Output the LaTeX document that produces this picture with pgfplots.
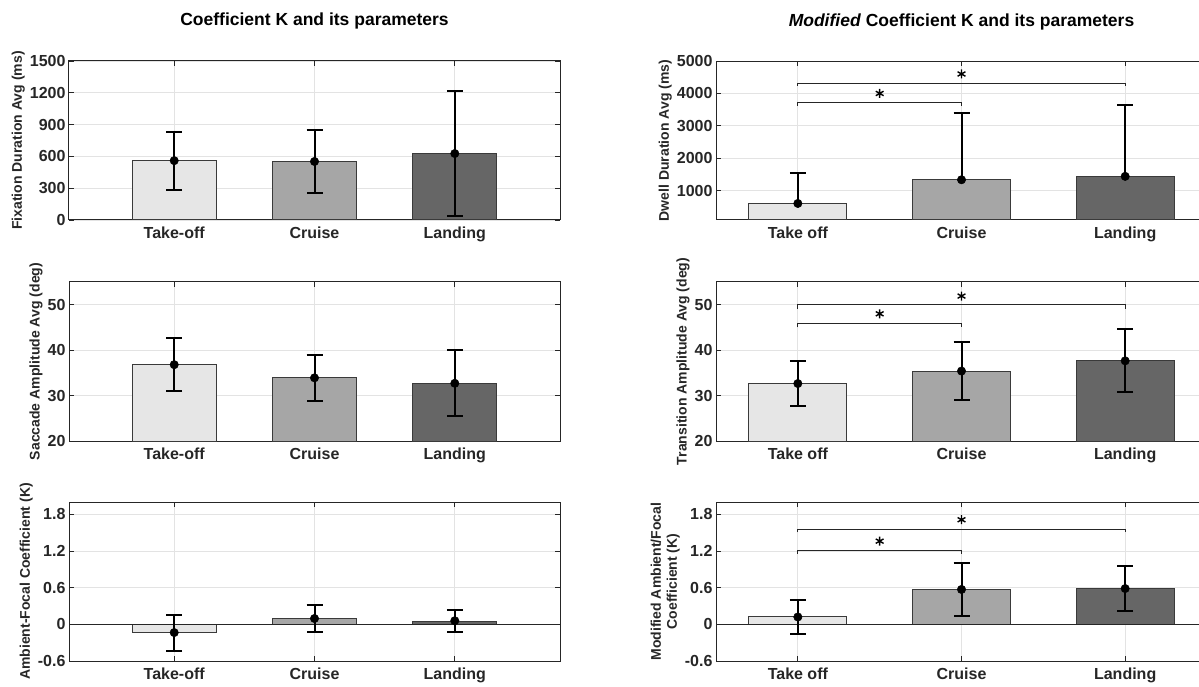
\documentclass[border=0pt]{standalone}
\usepackage{fontspec}
\setmainfont{Liberation Sans}
\usepackage{pgfplots}
\pgfplotsset{compat=1.18}

\definecolor{axgray}{HTML}{262626}
\definecolor{gridc}{HTML}{E3E3E3}
\definecolor{barA}{HTML}{E6E6E6}
\definecolor{barB}{HTML}{A6A6A6}
\definecolor{barC}{HTML}{666666}
\definecolor{edgec}{HTML}{3A3A3A}

\pgfplotsset{
  panel/.style={
    scale only axis, width=491pt, height=159pt,
    anchor=south west,
    xtick={1,2,3},
    tick align=inside, major tick length=5pt,
    grid=major, grid style={gridc, line width=0.8pt},
    axis line style={axgray, line width=1pt},
    every tick/.style={axgray, line width=0.8pt},
    tick label style={font=\fontsize{16}{16}\selectfont\bfseries, text=axgray},
    xticklabel style={yshift=-3pt},
    ylabel style={font=\fontsize{14}{16}\selectfont\bfseries, text=axgray, align=center, inner sep=1.5pt},
    title style={font=\fontsize{17.5}{18}\selectfont\bfseries, text=black,
      at={(axis description cs:0.5,1)}, anchor=base, yshift=29pt},
  },
  leftp/.style={panel, xmin=0.25, xmax=3.75, xticklabels={Take-off,Cruise,Landing}},
  rightp/.style={panel, xmin=0.5, xmax=3.5, xticklabels={Take off,Cruise,Landing}},
  barp/.style={ybar, bar width=0.6, bar shift=0pt, draw=edgec, line width=1pt, fill=#1},
  errp/.style={only marks, mark=*, mark size=4.2pt, black, mark options={fill=black, line width=0.5pt},
    error bars/.cd, y dir=#1, y explicit,
    error bar style={line width=2pt, black},
    error mark options={rotate=90, mark size=8pt, line width=2pt, black}},
  brk/.style={black!85, line width=1pt},
  star/.style={only marks, mark=asterisk, mark size=4.5pt, black, mark options={line width=1.4pt}},
}

\begin{document}
\begin{tikzpicture}
\useasboundingbox (0,0) rectangle (1199pt,686pt);

% ---------------- Left column ----------------
\begin{axis}[leftp, at={(69pt,466pt)},
  ymin=0, ymax=1500, ytick={0,300,600,900,1200,1500},
  yticklabels={0,300,600,900,1200,1500},
  ylabel={Fixation Duration Avg (ms)},
  title={Coefficient K and its parameters}]
  \addplot[barp=barA] coordinates {(1,560)};
  \addplot[barp=barB] coordinates {(2,552)};
  \addplot[barp=barC] coordinates {(3,627)};
  \addplot[errp=both] coordinates {(1,560) +- (0,273) (2,552) +- (0,300) (3,627) +- (0,590)};
\end{axis}

\begin{axis}[leftp, at={(69pt,245pt)},
  ymin=20, ymax=55, ytick={20,30,40,50},
  yticklabels={20,30,40,50},
  ylabel={Saccade Amplitude Avg (deg)}]
  \addplot[barp=barA] coordinates {(1,36.8)};
  \addplot[barp=barB] coordinates {(2,33.9)};
  \addplot[barp=barC] coordinates {(3,32.7)};
  \addplot[errp=both] coordinates {(1,36.8) +- (0,5.8) (2,33.9) +- (0,5.05) (3,32.7) +- (0,7.3)};
\end{axis}

\begin{axis}[leftp, at={(69pt,25pt)},
  ymin=-0.6, ymax=2.0, ytick={-0.6,0,0.6,1.2,1.8},
  yticklabels={-0.6,0,0.6,1.2,1.8},
  ylabel={Ambient-Focal Coefficient (K)}]
  \addplot[barp=barA] coordinates {(1,-0.13)};
  \addplot[barp=barB] coordinates {(2,0.10)};
  \addplot[barp=barC] coordinates {(3,0.05)};
  \addplot[axgray, line width=1pt] coordinates {(0.25,0) (3.75,0)};
  \addplot[errp=both] coordinates {(1,-0.135) +- (0,0.295) (2,0.095) +- (0,0.225) (3,0.058) +- (0,0.178)};
\end{axis}

% ---------------- Right column ----------------
\begin{axis}[rightp, at={(716pt,466pt)},
  ymin=100, ymax=5000, ytick={1000,2000,3000,4000,5000},
  yticklabels={1000,2000,3000,4000,5000},
  ylabel={Dwell Duration Avg (ms)},
  title={\textit{Modified} Coefficient K and its parameters}]
  \addplot[errp=plus] coordinates {(1,610) +- (0,947) (2,1340) +- (0,2065) (3,1445) +- (0,2199)};
  \addplot[barp=barA] coordinates {(1,610)};
  \addplot[barp=barB] coordinates {(2,1340)};
  \addplot[barp=barC] coordinates {(3,1445)};
  \addplot[brk] coordinates {(1,3620) (1,3706) (2,3706) (2,3620)};
  \addplot[brk] coordinates {(1,4230) (1,4313) (3,4313) (3,4230)};
  \addplot[star] coordinates {(1.5,4000) (2,4600)};
\end{axis}

\begin{axis}[rightp, at={(716pt,245pt)},
  ymin=20, ymax=55, ytick={20,30,40,50},
  yticklabels={20,30,40,50},
  ylabel={Transition Amplitude Avg (deg)}]
  \addplot[barp=barA] coordinates {(1,32.65)};
  \addplot[barp=barB] coordinates {(2,35.4)};
  \addplot[barp=barC] coordinates {(3,37.65)};
  \addplot[errp=both] coordinates {(1,32.65) +- (0,4.95) (2,35.4) +- (0,6.37) (3,37.65) +- (0,6.93)};
  \addplot[brk] coordinates {(1,45.0) (1,45.9) (2,45.9) (2,45.0)};
  \addplot[brk] coordinates {(1,49.1) (1,50.0) (3,50.0) (3,49.1)};
  \addplot[star] coordinates {(1.5,48.0) (2,51.9)};
\end{axis}

\begin{axis}[rightp, at={(716pt,25pt)},
  ymin=-0.6, ymax=2.0, ytick={-0.6,0,0.6,1.2,1.8},
  yticklabels={-0.6,0,0.6,1.2,1.8},
  ylabel={Modified Ambient/Focal\\Coefficient (K)}]
  \addplot[barp=barA] coordinates {(1,0.12)};
  \addplot[barp=barB] coordinates {(2,0.57)};
  \addplot[barp=barC] coordinates {(3,0.59)};
  \addplot[axgray, line width=1pt] coordinates {(0.5,0) (3.5,0)};
  \addplot[errp=both] coordinates {(1,0.12) +- (0,0.28) (2,0.57) +- (0,0.44) (3,0.585) +- (0,0.375)};
  \addplot[brk] coordinates {(1,1.155) (1,1.2) (2,1.2) (2,1.155)};
  \addplot[brk] coordinates {(1,1.505) (1,1.55) (3,1.55) (3,1.505)};
  \addplot[star] coordinates {(1.5,1.36) (2,1.71)};
\end{axis}
\end{tikzpicture}
\end{document}
